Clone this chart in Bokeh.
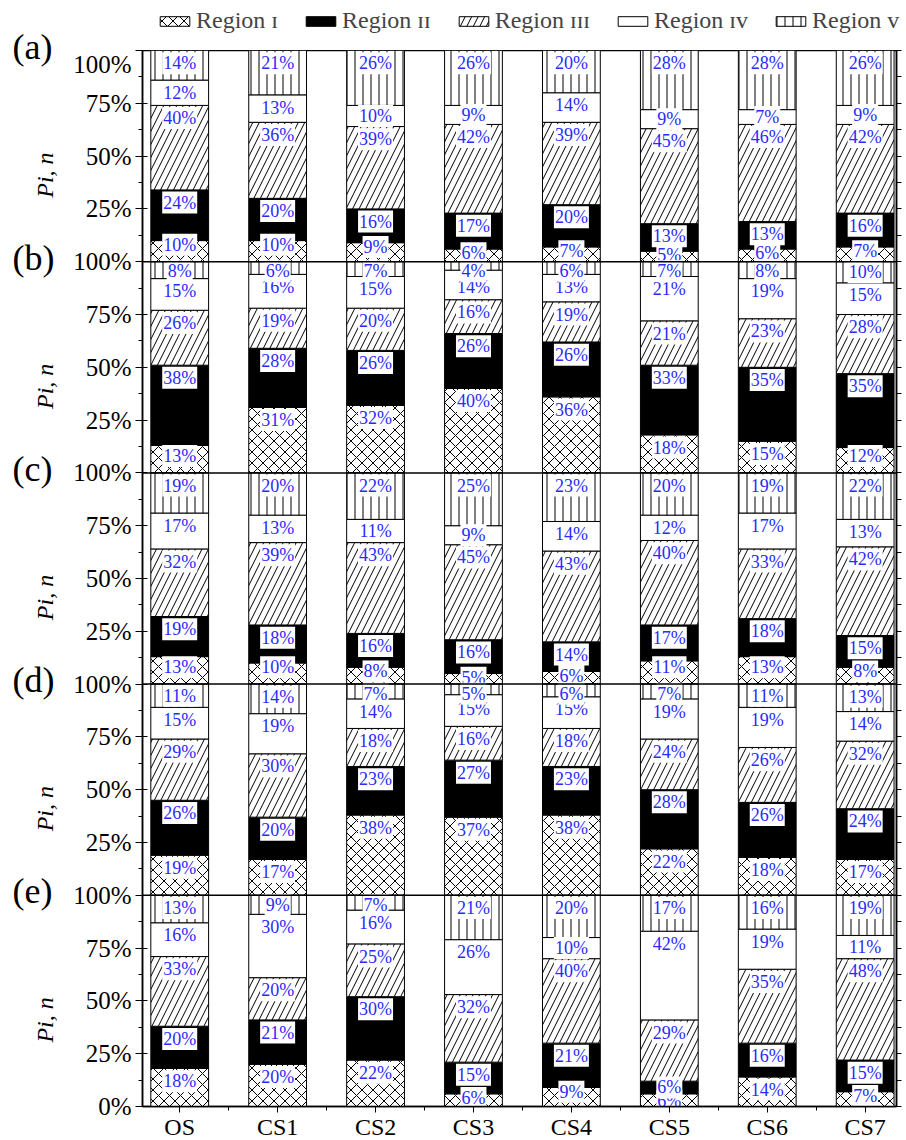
import math
import numpy as np
from bokeh.plotting import figure
from bokeh.layouts import row, column
from bokeh.models import (ColumnDataSource, FixedTicker, LinearAxis, Span,
                          Legend, LegendItem, Range1d)
from bokeh.embed import file_html
from bokeh.resources import INLINE
from bokeh.core.properties import value

categories = ["OS", "CS1", "CS2", "CS3", "CS4", "CS5", "CS6", "CS7"]
panel_names = ["(a)", "(b)", "(c)", "(d)", "(e)"]
region_names = ["Region \u026a", "Region \u026a\u026a", "Region \u026a\u026a\u026a",
                "Region \u026a\u1d20", "Region \u1d20"]

# Panel (a)
a_r1 = [10, 10, 9, 6, 7, 5, 6, 7]
a_r2 = [24, 20, 16, 17, 20, 13, 13, 16]
a_r3 = [40, 36, 39, 42, 39, 45, 46, 42]
a_r4 = [12, 13, 10, 9, 14, 9, 7, 9]
a_r5 = [14, 21, 26, 26, 20, 28, 28, 26]
# Panel (b)
b_r1 = [13, 31, 32, 40, 36, 18, 15, 12]
b_r2 = [38, 28, 26, 26, 26, 33, 35, 35]
b_r3 = [26, 19, 20, 16, 19, 21, 23, 28]
b_r4 = [15, 16, 15, 14, 13, 21, 19, 15]
b_r5 = [8, 6, 7, 4, 6, 7, 8, 10]
# Panel (c)
c_r1 = [13, 10, 8, 5, 6, 11, 13, 8]
c_r2 = [19, 18, 16, 16, 14, 17, 18, 15]
c_r3 = [32, 39, 43, 45, 43, 40, 33, 42]
c_r4 = [17, 13, 11, 9, 14, 12, 17, 13]
c_r5 = [19, 20, 22, 25, 23, 20, 19, 22]
# Panel (d)
d_r1 = [19, 17, 38, 37, 38, 22, 18, 17]
d_r2 = [26, 20, 23, 27, 23, 28, 26, 24]
d_r3 = [29, 30, 18, 16, 18, 24, 26, 32]
d_r4 = [15, 19, 14, 15, 15, 19, 19, 14]
d_r5 = [11, 14, 7, 5, 6, 7, 11, 13]
# Panel (e)
e_r1 = [18, 20, 22, 6, 9, 6, 14, 7]
e_r2 = [20, 21, 30, 15, 21, 6, 16, 15]
e_r3 = [33, 20, 25, 32, 40, 29, 35, 48]
e_r4 = [16, 30, 16, 26, 10, 42, 19, 11]
e_r5 = [13, 9, 7, 21, 20, 17, 16, 19]

panels = [
    [a_r1, a_r2, a_r3, a_r4, a_r5],
    [b_r1, b_r2, b_r3, b_r4, b_r5],
    [c_r1, c_r2, c_r3, c_r4, c_r5],
    [d_r1, d_r2, d_r3, d_r4, d_r5],
    [e_r1, e_r2, e_r3, e_r4, e_r5],
]

SERIF = "Liberation Serif"
BAR_W = 0.59
TOP = 50
FRAME_H = 1056
BOTTOM = 32
LEFT_W = 70
BORDER_L = 72
FRAME_W = 754
BORDER_R = 6
N = len(panels)
px_per_unit = FRAME_H / N

p = figure(frame_width=FRAME_W, frame_height=FRAME_H, x_range=Range1d(-0.38, 7.32),
           y_range=Range1d(0, N), output_backend="svg", toolbar_location=None,
           min_border_left=BORDER_L, min_border_right=BORDER_R, min_border_top=0,
           min_border_bottom=BOTTOM)
p.grid.visible = False
p.outline_line_color = "black"
p.outline_line_width = 1.5

styles = [
    dict(fill_color="white", hatch_pattern="x", hatch_scale=11, hatch_weight=1, hatch_color="black"),
    dict(fill_color="black"),
    dict(fill_color="white", hatch_pattern="/", hatch_scale=13, hatch_weight=1, hatch_color="black"),
    dict(fill_color="white"),
    dict(fill_color="white", hatch_pattern="|", hatch_scale=8, hatch_weight=1, hatch_color="black"),
]

reg_data = [dict(x=[], bottom=[], top=[]) for _ in range(5)]
lab = dict(x=[], y=[], t=[])
for k, regs in enumerate(panels):
    base = N - 1 - k
    for j in range(len(categories)):
        tops = []
        cum = 0.0
        for r in range(5):
            v = regs[r][j] / 100.0
            reg_data[r]["x"].append(j)
            reg_data[r]["bottom"].append(base + cum)
            reg_data[r]["top"].append(base + cum + v)
            cum += v
            tops.append((base + cum, v))
        # label positions: near the top of each segment, avoiding overlap
        prev = None
        ys = [0.0] * 5
        for r in range(4, -1, -1):
            t0, v = tops[r]
            if r == 0:
                off = min(0.06, max(v - 0.08, 0.02))
            else:
                off = min(0.06, max(v / 2, 0.03))
            ly = min(t0 - off, base + 0.955)
            if prev is not None:
                ly = min(ly, prev - 0.075)
            ly = max(ly, base + 0.025)
            ys[r] = ly
            prev = ly
        for r in range(5):
            lab["x"].append(j)
            lab["y"].append(ys[r])
            lab["t"].append(f"{regs[r][j]}%")

for r in range(5):
    src = ColumnDataSource(reg_data[r])
    p.vbar(x="x", bottom="bottom", top="top", width=BAR_W, source=src,
           line_color="black", line_width=1, **styles[r])

p.text(x="x", y="y", text="t", source=ColumnDataSource(lab),
       text_font=value(SERIF), text_font_size="18px", text_color="#2a2aff",
       text_align="center", text_baseline="middle",
       background_fill_color="white", padding=1)

for k in range(1, N):
    p.add_layout(Span(location=k, dimension="width", line_color="black", line_width=1.5))

yticks = [i * 0.25 for i in range(4 * N + 1)]
yminor = [0.125 + i * 0.25 for i in range(4 * N)]
ov = {}
for t in yticks:
    frac = t - math.floor(t)
    if frac == 0:
        ov[t] = "100%" if t > 0 else "0%"
    else:
        ov[t] = f"{int(round(frac * 100))}%"
yax = p.yaxis[0]
yax.ticker = FixedTicker(ticks=yticks, minor_ticks=yminor)
yax.major_label_overrides = ov
yax.major_label_text_font = SERIF
yax.major_label_text_font_size = "25px"
yax.major_label_text_color = "black"
yax.major_tick_out = 7
yax.major_tick_in = 5
yax.minor_tick_out = 4
yax.minor_tick_in = 0
yax.major_label_standoff = 4
yax.axis_line_width = 1.5

rax = LinearAxis(ticker=FixedTicker(ticks=[], minor_ticks=yminor + yticks),
                 minor_tick_out=5, minor_tick_in=0, axis_line_width=1.5,
                 major_tick_line_alpha=0)
p.add_layout(rax, "right")

xax = p.xaxis[0]
xax.ticker = FixedTicker(ticks=list(range(len(categories))),
                         minor_ticks=[i + 0.5 for i in range(len(categories) - 1)])
xax.major_label_overrides = {i: c for i, c in enumerate(categories)}
xax.major_label_text_font = SERIF
xax.major_label_text_font_size = "24px"
xax.major_label_text_color = "black"
xax.major_tick_out = 6
xax.major_tick_in = 0
xax.minor_tick_out = 4
xax.minor_tick_in = 0
xax.major_label_standoff = 1
xax.axis_line_width = 1.5

# legend strip above the main plot (proxy renderers carry only the styles)
top = figure(frame_width=BORDER_L + FRAME_W + BORDER_R, frame_height=TOP,
             x_range=Range1d(0, 1), y_range=Range1d(0, 1),
             output_backend="svg", toolbar_location=None, min_border=0)
top.axis.visible = False
top.grid.visible = False
top.outline_line_color = None
leg_rends = []
for r in range(5):
    proxy = ColumnDataSource(dict(x=np.array([np.nan]), top=np.array([np.nan])))
    leg_rends.append(top.vbar(x="x", top="top", width=0.5, source=proxy,
                              line_color="black", line_width=1, **styles[r]))
legend = Legend(items=[LegendItem(label=region_names[i], renderers=[leg_rends[i]])
                       for i in range(5)],
                orientation="horizontal", location=(86, 16),
                label_text_font=SERIF, label_text_font_size="24px",
                glyph_width=37, glyph_height=12, spacing=24, label_standoff=3,
                padding=0, margin=0, border_line_alpha=0, background_fill_alpha=0)
top.add_layout(legend, "center")

# left strip with panel letters and y titles
left = figure(frame_width=LEFT_W, frame_height=TOP + FRAME_H,
              x_range=Range1d(0, LEFT_W), y_range=Range1d(0, N + TOP / px_per_unit),
              output_backend="svg", toolbar_location=None, min_border=0)
left.axis.visible = False
left.grid.visible = False
left.outline_line_color = None
pan_src = ColumnDataSource(dict(
    x=[12] * N, y=[N - k for k in range(N)], t=panel_names))
left.text(x="x", y="y", text="t", source=pan_src, text_font=value(SERIF),
          text_font_size="36px", text_align="left", text_baseline="middle",
          text_color="black", y_offset=-4)
ttl_src = ColumnDataSource(dict(
    x=[44] * N, y=[N - 1 - k + 0.41 for k in range(N)], t=["Pi, n"] * N))
left.text(x="x", y="y", text="t", source=ttl_src, text_font=value(SERIF),
          text_font_size="24px", text_font_style="italic", angle=math.pi / 2,
          text_align="center", text_baseline="middle", text_color="black")

layout = row(left, column(top, p, spacing=0), spacing=0)
open("out.html", "w").write(file_html(layout, INLINE))
